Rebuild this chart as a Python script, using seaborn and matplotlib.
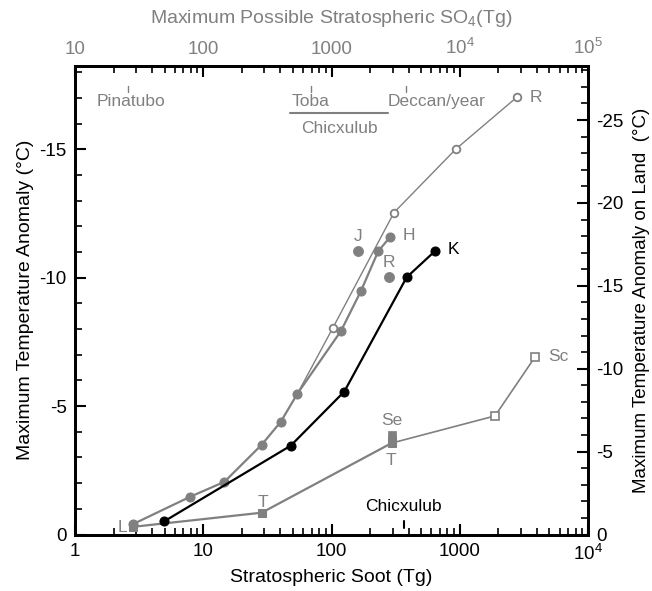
import numpy as np
import pandas as pd
import matplotlib
matplotlib.use("Agg")
import matplotlib.pyplot as plt
import matplotlib.ticker as mticker
import seaborn as sns

# ---------------- data ----------------
# gray filled-circle series (L ... H)
gray_x = [2.85, 7.9, 14.6, 28.6, 40.2, 54.3, 118.6, 169.8, 231.7, 285.8]
gray_y = [-0.41, -1.47, -2.05, -3.50, -4.39, -5.49, -7.93, -9.49, -11.04, -11.58]
# open-circle series (R)
open_x = [54.3, 102, 307, 935, 2795]
open_y = [-5.49, -8.03, -12.54, -15.02, -17.04]
# black series (K)
k_x = [4.95, 48.1, 125.9, 385.6, 641]
k_y = [-0.51, -3.46, -5.57, -10.02, -11.04]
# isolated points J and R
single_x = [160, 282]
single_y = [-11.04, -10.04]
single_lab = ["J", "R"]
# square series (L, T, T) filled
sq_x = [2.85, 28.6, 294]
sq_y = [-0.30, -0.85, -3.56]
# Se filled squares
se_x = [294, 294]
se_y = [-3.88, -3.72]
# open squares (Sc)
osq_x = [294, 1884, 3882]
osq_y = [-3.56, -4.62, -6.93]

bottom_ticks = [1, 10, 100, 1000, 10000]
bottom_labels = ["1", "10", "100", "1000", "10$^4$"]
top_ticks = [10, 100, 1000, 10000, 100000]
top_labels = ["10", "100", "1000", "10$^4$", "10$^5$"]
left_ticks = [0, -5, -10, -15]
right_ticks = [0, -5, -10, -15, -20, -25]

GRAY = "#808080"

sns.set_style("ticks", {"axes.edgecolor": "black", "xtick.color": "black", "ytick.color": "black"})
plt.rcParams["font.family"] = ["Liberation Sans", "DejaVu Sans"]
plt.rcParams["mathtext.fontset"] = "custom"
plt.rcParams["mathtext.rm"] = "Liberation Sans"
plt.rcParams["text.color"] = "black"
plt.rcParams["axes.labelcolor"] = "black"

fig = plt.figure(figsize=(6.52, 5.91), dpi=100)
ax = fig.add_axes([75 / 652, 1 - 534.5 / 591, (588 - 75) / 652, (534.5 - 66) / 591])

ax.set_xscale("log")
ax.set_xlim(1, 10000)
YTOP = -18.25
ax.set_ylim(0, YTOP)

MS = 6.5
# lines
sns.lineplot(x=open_x, y=open_y, ax=ax, color=GRAY, lw=1.0, sort=False, estimator=None,
             marker="o", markersize=5.5, markerfacecolor="white", markeredgecolor=GRAY,
             markeredgewidth=1.3, markevery=[1, 2, 3, 4])
sns.lineplot(x=gray_x, y=gray_y, ax=ax, color=GRAY, lw=1.6, sort=False, estimator=None,
             marker="o", markersize=MS, markeredgecolor=GRAY, markerfacecolor=GRAY)
sns.lineplot(x=osq_x, y=osq_y, ax=ax, color=GRAY, lw=1.2, sort=False, estimator=None,
             marker="s", markersize=6, markerfacecolor="white", markeredgecolor=GRAY,
             markeredgewidth=1.2, markevery=[1, 2])
sns.lineplot(x=sq_x, y=sq_y, ax=ax, color=GRAY, lw=1.6, sort=False, estimator=None,
             marker="s", markersize=6, markeredgecolor=GRAY, markerfacecolor=GRAY)
sns.scatterplot(x=se_x, y=se_y, ax=ax, color=GRAY, marker="s", s=40, edgecolor=GRAY, zorder=3)
sns.scatterplot(x=single_x, y=single_y, ax=ax, color=GRAY, marker="o", s=52, edgecolor=GRAY, zorder=3)
sns.lineplot(x=k_x, y=k_y, ax=ax, color="black", lw=1.6, sort=False, estimator=None,
             marker="o", markersize=MS, markeredgecolor="black", markerfacecolor="black")

# point labels
fs_lab = 12.5
ax.text(2.55, -0.28, "L", color=GRAY, fontsize=fs_lab, ha="right", va="center")
ax.text(29, -1.25, "T", color=GRAY, fontsize=fs_lab, ha="center", va="center")
ax.text(292, -2.9, "T", color=GRAY, fontsize=fs_lab, ha="center", va="center")
ax.text(294, -4.45, "Se", color=GRAY, fontsize=fs_lab, ha="center", va="center")
ax.text(4900, -6.93, "Sc", color=GRAY, fontsize=fs_lab, ha="left", va="center")
ax.text(3500, -17.04, "R", color=GRAY, fontsize=fs_lab, ha="left", va="center")
ax.text(360, -11.65, "H", color=GRAY, fontsize=fs_lab, ha="left", va="center")
ax.text(160, -11.6, "J", color=GRAY, fontsize=fs_lab, ha="center", va="center")
ax.text(282, -10.6, "R", color=GRAY, fontsize=fs_lab, ha="center", va="center")
ax.text(800, -11.1, "K", color="black", fontsize=fs_lab, ha="left", va="center")

# top annotations
ax.plot([2.6, 2.6], [-17.47, -17.24], color=GRAY, lw=1)
ax.plot([68.8, 68.8], [-17.47, -17.24], color=GRAY, lw=1)
ax.plot([378, 378], [-17.47, -17.24], color=GRAY, lw=1)
ax.text(1.48, -16.85, "Pinatubo", color=GRAY, fontsize=fs_lab, ha="left", va="center")
ax.text(49, -16.85, "Toba", color=GRAY, fontsize=fs_lab, ha="left", va="center")
ax.text(276, -16.85, "Deccan/year", color=GRAY, fontsize=fs_lab, ha="left", va="center")
ax.plot([47.5, 276], [-16.42, -16.42], color=GRAY, lw=1.5)
ax.text(116, -15.83, "Chicxulub", color=GRAY, fontsize=fs_lab, ha="center", va="center")
# bottom Chicxulub marker
ax.plot([366, 366], [-0.25, -0.53], color="black", lw=1.5)
ax.text(366, -1.1, "Chicxulub", color="black", fontsize=fs_lab, ha="center", va="center")

# axes formatting
ax.set_xticks(bottom_ticks)
ax.set_xticklabels(bottom_labels)
ax.xaxis.set_minor_locator(mticker.LogLocator(base=10, subs=np.arange(2, 10)))
ax.xaxis.set_minor_formatter(mticker.NullFormatter())
ax.set_yticks(left_ticks)
ax.set_yticklabels([str(t) for t in left_ticks])
ax.yaxis.set_minor_locator(mticker.MultipleLocator(1))
ax.tick_params(which="major", direction="in", length=8, width=1.5, labelsize=13.5, pad=6, color="black")
ax.tick_params(which="minor", direction="in", length=5, width=1.2, color="black")
ax.tick_params(axis="y", which="both", left=True, right=False)
ax.tick_params(axis="x", which="both", top=False)
for s in ax.spines.values():
    s.set_linewidth(2)
    s.set_color("black")
ax.set_xlabel("Stratospheric Soot (Tg)", fontsize=14, labelpad=4)
ax.set_ylabel("Maximum Temperature Anomaly (°C)", fontsize=14, labelpad=4)

# top axis (SO4 = 10 x soot)
secx = ax.secondary_xaxis("top", functions=(lambda x: x * 10, lambda x: x / 10))
secx.set_xticks(top_ticks)
secx.set_xticklabels(top_labels)
secx.xaxis.set_minor_locator(mticker.LogLocator(base=10, subs=np.arange(2, 10)))
secx.xaxis.set_minor_formatter(mticker.NullFormatter())
secx.tick_params(which="major", direction="in", length=8, width=1.5, labelsize=13.5,
                 labelcolor=GRAY, pad=6, color="black")
secx.tick_params(which="minor", direction="in", length=5, width=1.2, color="black")
secx.spines["top"].set_linewidth(2)
secx.spines["top"].set_color("black")
secx.set_xlabel("Maximum Possible Stratospheric SO$_4$(Tg)", fontsize=14, color=GRAY, labelpad=10)

# right axis (land temperature)
ax2 = ax.twinx()
ax2.set_ylim(0, -28.26)
ax2.set_yticks(right_ticks)
ax2.set_yticklabels([str(t) for t in right_ticks])
ax2.yaxis.set_minor_locator(mticker.MultipleLocator(1))
ax2.tick_params(which="major", direction="in", length=8, width=1.5, labelsize=13.5, pad=6, color="black")
ax2.tick_params(which="minor", direction="in", length=5, width=1.2, color="black")
for s in ax2.spines.values():
    s.set_linewidth(2)
    s.set_color("black")
ax2.set_ylabel("Maximum Temperature Anomaly on Land  (°C)", fontsize=13.5, labelpad=7)

fig.savefig("out.png", dpi=100)
